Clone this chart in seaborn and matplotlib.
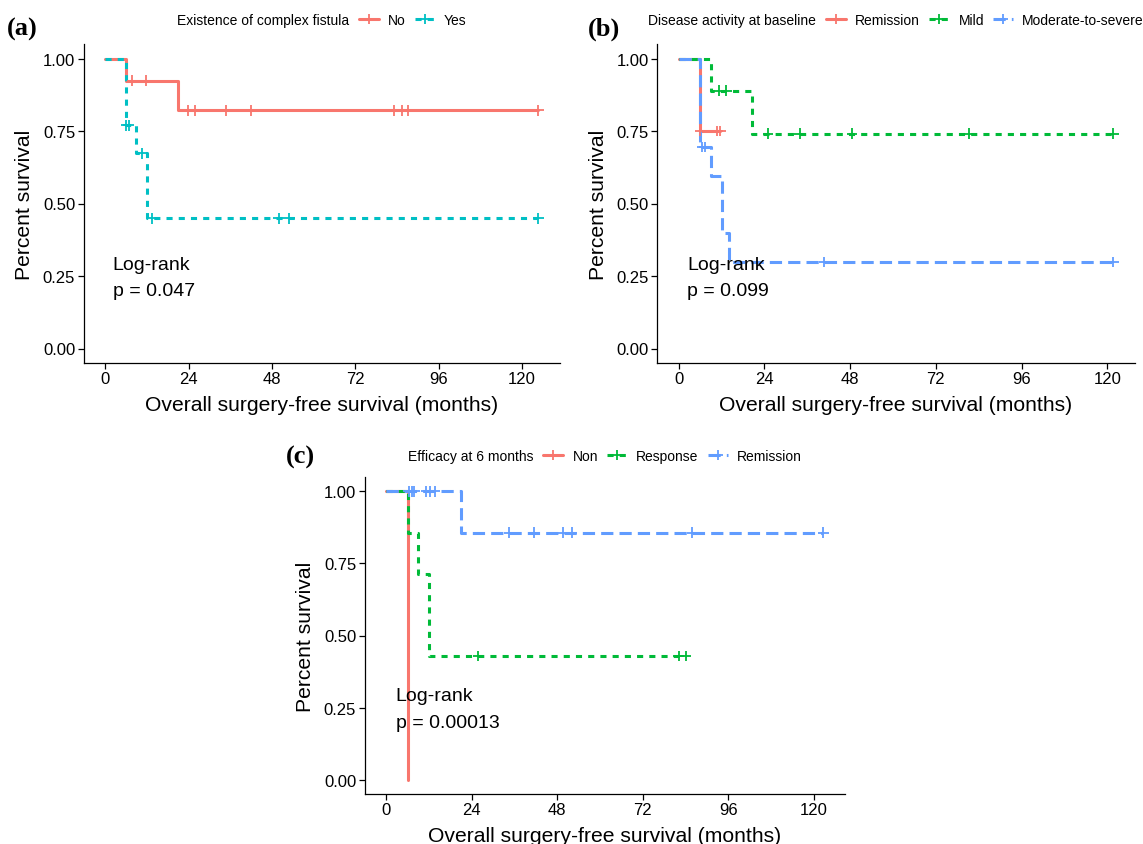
import numpy as np
import pandas as pd
import matplotlib
matplotlib.use("Agg")
import matplotlib.pyplot as plt
import seaborn as sns
from matplotlib.lines import Line2D

# ---- values (months, survival probability) ----

# (a) existence of complex fistula
fistula_groups = ["No", "Yes"]
fistula_no_time = [0, 6, 21, 124.7]
fistula_no_surv = [1.0, 0.923, 0.821, 0.821]
fistula_no_cens = [7.8, 11.9, 23.9, 26.0, 34.9, 41.9, 83.2, 85.4, 87.3, 124.7]
fistula_yes_time = [0, 6, 9, 12, 124.7]
fistula_yes_surv = [1.0, 0.769, 0.673, 0.449, 0.449]
fistula_yes_cens = [6.0, 6.8, 10.7, 13.6, 50.0, 53.0, 124.7]
fistula_p = "p = 0.047"

# (b) disease activity at baseline
activity_groups = ["Remission", "Mild", "Moderate-to-severe"]
activity_rem_time = [0, 6, 11.6]
activity_rem_surv = [1.0, 0.75, 0.75]
activity_rem_cens = [6.0, 10.8, 11.6]
activity_mild_time = [0, 9, 20.4, 121.7]
activity_mild_surv = [1.0, 0.889, 0.741, 0.741]
activity_mild_cens = [11.4, 13.3, 25.0, 33.9, 48.5, 81.3, 121.7]
activity_mod_time = [0, 6, 9, 12, 14, 121.7]
activity_mod_surv = [1.0, 0.695, 0.595, 0.397, 0.298, 0.298]
activity_mod_cens = [6.5, 7.3, 40.8, 121.7]
activity_p = "p = 0.099"

# (c) efficacy at 6 months
efficacy_groups = ["Non", "Response", "Remission"]
efficacy_non_time = [0, 6]
efficacy_non_surv = [1.0, 0.0]
efficacy_non_cens = []
efficacy_resp_time = [0, 6, 9, 12, 84.0]
efficacy_resp_surv = [1.0, 0.857, 0.714, 0.429, 0.429]
efficacy_resp_cens = [25.7, 82.0, 84.0]
efficacy_rem_time = [0, 21, 122.6]
efficacy_rem_surv = [1.0, 0.857, 0.857]
efficacy_rem_cens = [6.3, 7.1, 7.8, 11.1, 12.2, 13.6, 34.4, 41.4, 49.6, 52.1, 85.9, 122.6]
efficacy_p = "p = 0.00013"

x_ticks = [0, 24, 48, 72, 96, 120]
y_ticks = [0.0, 0.25, 0.5, 0.75, 1.0]

two_colors = ["#F8766D", "#00BFC4"]
three_colors = ["#F8766D", "#00BA38", "#619CFF"]
line_dashes = ["", (2, 2), (4, 2)]   # ggplot solid, "22", "42"

sns.set_theme(style="ticks")
plt.rcParams["font.family"] = ["Liberation Sans", "DejaVu Sans"]
plt.rcParams["text.color"] = "black"
plt.rcParams["axes.labelcolor"] = "black"
plt.rcParams["xtick.color"] = "black"
plt.rcParams["ytick.color"] = "black"

W, H = 1143, 845
fig = plt.figure(figsize=(W / 100, H / 100), dpi=100)
LW = 2.2


def km_frames(groups, times, survs, cens):
    curve = pd.concat([pd.DataFrame({"time": t, "surv": s, "group": g})
                       for g, t, s in zip(groups, times, survs)])
    marks = []
    for g, t, s, c in zip(groups, times, survs, cens):
        if len(c) == 0:
            continue
        idx = np.searchsorted(t, c, side="right") - 1
        marks.append(pd.DataFrame({"time": c, "surv": np.asarray(s)[idx], "group": g}))
    return curve, pd.concat(marks)


def km_panel(rect, groups, times, survs, cens, colors, pval, txt_x):
    ax = fig.add_axes(rect)
    pal = dict(zip(groups, colors))
    curve, marks = km_frames(groups, times, survs, cens)
    sns.lineplot(data=curve, x="time", y="surv", hue="group", style="group",
                 hue_order=groups, style_order=groups, palette=pal,
                 dashes=line_dashes[:len(groups)], drawstyle="steps-post",
                 estimator=None, sort=False, linewidth=LW, legend=False, ax=ax)
    sns.scatterplot(data=marks, x="time", y="surv", hue="group", hue_order=groups,
                    palette=pal, marker="+", s=60, linewidth=1.3, legend=False,
                    ax=ax, zorder=3)
    tmax = max(max(t) for t in times)
    ax.set_xlim(-0.05 * tmax, 1.05 * tmax)
    ax.set_ylim(-0.05, 1.05)
    ax.set_xticks(x_ticks)
    ax.set_yticks(y_ticks)
    ax.set_yticklabels([f"{v:.2f}" for v in y_ticks])
    ax.set_xlabel("Overall surgery-free survival (months)", fontsize=15.2, labelpad=6)
    ax.set_ylabel("Percent survival", fontsize=15.2, labelpad=6)
    ax.tick_params(labelsize=12, length=4, width=0.9, pad=2, colors="black")
    sns.despine(ax=ax)
    for sp in ("left", "bottom"):
        ax.spines[sp].set_color("black")
        ax.spines[sp].set_linewidth(0.9)
    ax.text(txt_x, 0.245, "Log-rank\n" + pval, fontsize=14, ha="left",
            va="center", linespacing=1.75, color="black")
    return ax


def top_legend(ax, title, groups, colors, row_y):
    handles = []
    for c, d in zip(colors, line_dashes):
        ls = "-" if d == "" else (0, d)
        handles.append(Line2D([], [], color=c, lw=LW, linestyle=ls, marker="+",
                              markersize=7, markeredgewidth=1.3))
    leg = ax.legend(handles, groups, ncol=len(groups), loc="center left",
                    bbox_to_anchor=(0, 0), bbox_transform=fig.transFigure,
                    frameon=False, fontsize=10, handlelength=1.45,
                    handletextpad=0.65, columnspacing=0.65, borderpad=0,
                    borderaxespad=0, labelcolor="black")
    t = fig.text(0, 0, title, fontsize=10, ha="left", va="center", color="black")
    fig.canvas.draw()
    r = fig.canvas.get_renderer()
    lw_px = leg.get_window_extent(r).width
    tw_px = t.get_window_extent(r).width
    gap = 10
    bb = ax.get_window_extent(r)
    x0 = (bb.x0 + bb.x1) / 2 - (tw_px + gap + lw_px) / 2
    y = (H - row_y) / H
    t.set_position((x0 / W, y))
    leg.set_bbox_to_anchor(((x0 + tw_px + gap) / W, y), transform=fig.transFigure)


ax_a = km_panel([83.5 / W, 1 - 364 / H, 476.5 / W, 319 / H], fistula_groups,
                [fistula_no_time, fistula_yes_time],
                [fistula_no_surv, fistula_yes_surv],
                [fistula_no_cens, fistula_yes_cens], two_colors, fistula_p, 2.2)
ax_b = km_panel([657 / W, 1 - 364 / H, 478 / W, 319 / H], activity_groups,
                [activity_rem_time, activity_mild_time, activity_mod_time],
                [activity_rem_surv, activity_mild_surv, activity_mod_surv],
                [activity_rem_cens, activity_mild_cens, activity_mod_cens],
                three_colors, activity_p, 2.3)
ax_c = km_panel([364.5 / W, 1 - 795 / H, 480.5 / W, 317 / H], efficacy_groups,
                [efficacy_non_time, efficacy_resp_time, efficacy_rem_time],
                [efficacy_non_surv, efficacy_resp_surv, efficacy_rem_surv],
                [efficacy_non_cens, efficacy_resp_cens, efficacy_rem_cens],
                three_colors, efficacy_p, 2.6)

top_legend(ax_a, "Existence of complex fistula", fistula_groups, two_colors, 21)
top_legend(ax_b, "Disease activity at baseline", activity_groups, three_colors, 21)
top_legend(ax_c, "Efficacy at 6 months", efficacy_groups, three_colors, 457)

for lab, px, py in [("(a)", 7, 29), ("(b)", 588, 29), ("(c)", 286, 457)]:
    fig.text(px / W, 1 - py / H, lab, fontsize=19, fontweight="bold",
             family=["Liberation Serif", "DejaVu Serif"], ha="left", va="center")

fig.savefig("out.png", dpi=100)
